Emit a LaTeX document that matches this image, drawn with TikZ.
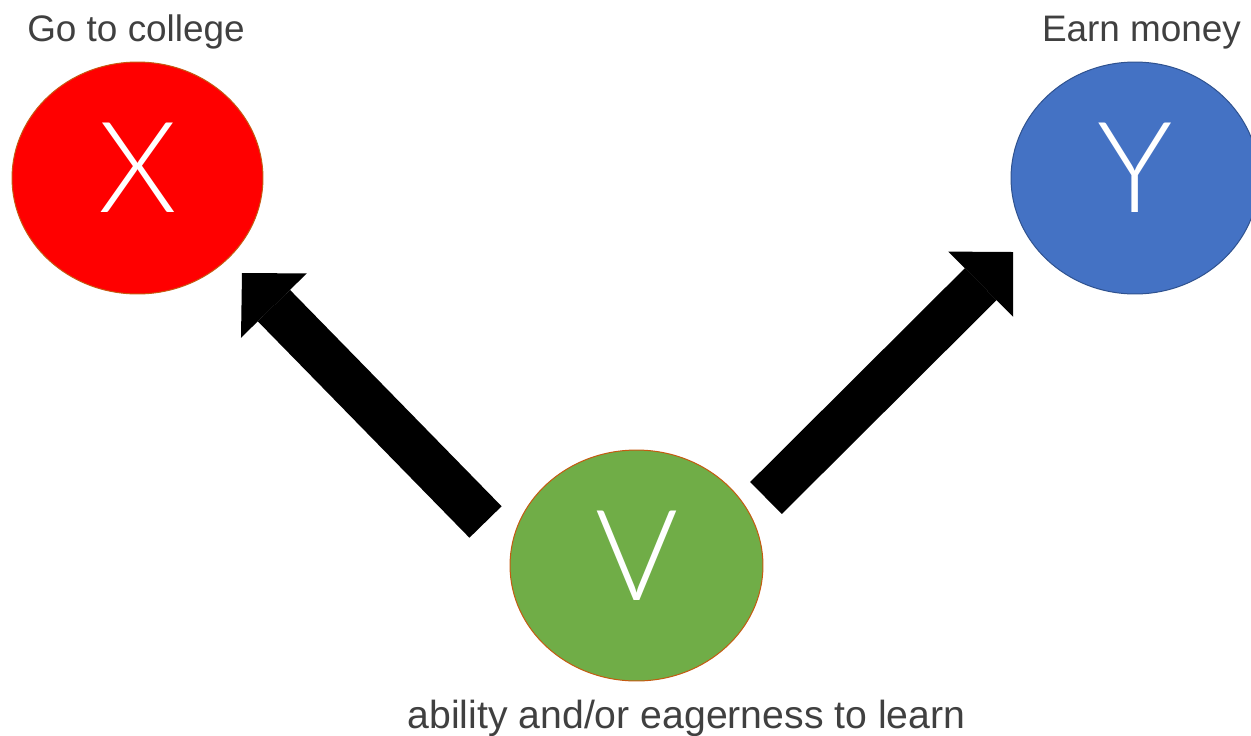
\documentclass[tikz,border=0pt]{standalone}
\usepackage{fontspec}
\setmainfont{Liberation Sans}
\IfFontExistsTF{Lato Light}{\newfontfamily\thinfont{Lato Light}}{%
  \IfFontExistsTF{Open Sans Light}{\newfontfamily\thinfont{Open Sans Light}}{%
    \newfontfamily\thinfont{Liberation Sans}}}
\usetikzlibrary{shapes.geometric, arrows.meta}
\definecolor{xred}{HTML}{FF0000}
\definecolor{edgebrown}{HTML}{C55A11}
\definecolor{yblue}{HTML}{4472C4}
\definecolor{yedge}{HTML}{2F528F}
\definecolor{vgreen}{HTML}{70AD47}
\definecolor{labelgray}{HTML}{404040}
\tikzset{
  circ/.style={ellipse, inner sep=0pt, text=white, line width=0.02cm,
    font=\thinfont\fontsize{72}{72}\selectfont, text depth=0.4cm},
  lbl/.style={anchor=base, text=labelgray, inner sep=0pt,
    font=\fontsize{21}{21}\selectfont},
  bigarrow/.style={line width=0.9cm,
    -{Triangle[length=0.912cm, width=1.84cm, line width=0pt]}},
}
\begin{document}
\begin{tikzpicture}[x=0.02cm, y=-0.02cm]
\useasboundingbox (0,0) rectangle (1251,735);
\node[circ, fill=xred, draw=edgebrown, minimum width=5.02cm, minimum height=4.64cm] (X) at (137.5,178) {X};
\node[circ, fill=yblue, draw=yedge, minimum width=4.96cm, minimum height=4.64cm] (Y) at (1135,178) {Y};
\node[circ, fill=vgreen, draw=edgebrown, minimum width=5.06cm, minimum height=4.62cm] (V) at (636.5,565.5) {V};
\node[lbl] (lx) at (136,41.7) {Go to college};
\node[lbl] (ly) at (1141.5,41) {Earn money};
\node[lbl, font=\fontsize{22.3}{22.3}\selectfont] (lv) at (686.5,728) {ability and/or eagerness to learn};
\coordinate (ltail) at (485.5,522);
\coordinate (lhead) at (242,273);
\coordinate (rtail) at (766,498);
\coordinate (rhead) at (1013,252);
\draw[bigarrow] (ltail) -- (lhead);
\draw[bigarrow] (rtail) -- (rhead);
\end{tikzpicture}
\end{document}
